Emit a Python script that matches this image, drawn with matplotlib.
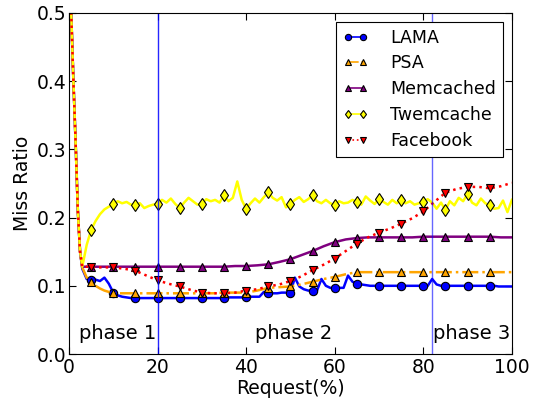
import numpy as np
import matplotlib
matplotlib.use("Agg")
import matplotlib.pyplot as plt

# request position (%), dense part at start where every curve falls fast
x_fine = [0, 0.5, 1, 1.5, 2, 2.5] + list(range(3, 101))
x_smooth = [0, 0.5, 1, 1.5, 2, 2.5, 3, 4, 5, 6, 7, 8, 9, 10] + list(np.arange(12.5, 100.1, 2.5))

start = [0.62, 0.50, 0.40, 0.31, 0.21, 0.15]

lama = start + [
    0.125, 0.110, 0.108, 0.109, 0.107, 0.112, 0.103, 0.090, 0.086, 0.084,   # 3-12
    0.083, 0.082, 0.082, 0.082, 0.082, 0.082, 0.082, 0.082, 0.082, 0.082,   # 13-22
    0.082, 0.082, 0.082, 0.082, 0.082, 0.082, 0.082, 0.082, 0.082, 0.082,   # 23-32
    0.082, 0.082, 0.082, 0.083, 0.083, 0.083, 0.083, 0.083, 0.084, 0.084,   # 33-42
    0.084, 0.091, 0.089, 0.089, 0.089, 0.090, 0.090, 0.090, 0.112, 0.099,   # 43-52
    0.095, 0.093, 0.093, 0.093, 0.110, 0.100, 0.097, 0.097, 0.097, 0.097,   # 53-62
    0.115, 0.106, 0.103, 0.102, 0.101, 0.100, 0.100, 0.100, 0.100, 0.100,   # 63-72
    0.100, 0.100, 0.100, 0.100, 0.100, 0.100, 0.100, 0.100, 0.100, 0.110,   # 73-82
    0.102, 0.100, 0.100, 0.100, 0.100, 0.100, 0.100, 0.100, 0.100, 0.100,   # 83-92
    0.100, 0.100, 0.100, 0.100, 0.099, 0.099, 0.099, 0.099,                 # 93-100
]

twemcache = start + [
    0.128, 0.160, 0.182, 0.195, 0.205, 0.212, 0.216, 0.220, 0.224, 0.221,   # 3-12
    0.223, 0.219, 0.219, 0.221, 0.214, 0.217, 0.219, 0.220, 0.226, 0.222,   # 13-22
    0.228, 0.220, 0.214, 0.222, 0.229, 0.224, 0.219, 0.220, 0.227, 0.224,   # 23-32
    0.226, 0.222, 0.233, 0.224, 0.229, 0.253, 0.226, 0.213, 0.221, 0.228,   # 33-42
    0.222, 0.230, 0.237, 0.229, 0.225, 0.230, 0.215, 0.220, 0.226, 0.230,   # 43-52
    0.223, 0.227, 0.233, 0.224, 0.221, 0.226, 0.221, 0.218, 0.224, 0.221,   # 53-62
    0.222, 0.226, 0.223, 0.219, 0.231, 0.225, 0.220, 0.227, 0.223, 0.219,   # 63-72
    0.226, 0.221, 0.226, 0.221, 0.224, 0.219, 0.221, 0.223, 0.227, 0.222,   # 73-82
    0.213, 0.222, 0.211, 0.224, 0.218, 0.229, 0.224, 0.235, 0.222, 0.218,   # 83-92
    0.228, 0.221, 0.218, 0.213, 0.214, 0.225, 0.208, 0.226,                 # 93-100
]

psa = start + [
    0.127, 0.112, 0.105, 0.100, 0.096, 0.093, 0.091, 0.089,                 # 3-10
    0.089, 0.089, 0.089, 0.089, 0.089, 0.089, 0.089, 0.089, 0.089, 0.090,   # 12.5-35
    0.090, 0.090, 0.093, 0.097, 0.098, 0.099, 0.102, 0.106, 0.110, 0.113,   # 37.5-60
    0.117, 0.120, 0.120, 0.120, 0.120, 0.120, 0.120, 0.120, 0.120, 0.120,   # 62.5-85
    0.120, 0.120, 0.120, 0.120, 0.120, 0.120,                               # 87.5-100
]

memcached = start + [
    0.128, 0.128, 0.128, 0.128, 0.128, 0.128, 0.128, 0.128,                 # 3-10
    0.128, 0.128, 0.128, 0.128, 0.128, 0.128, 0.128, 0.128, 0.128, 0.128,   # 12.5-35
    0.129, 0.129, 0.130, 0.1315, 0.135, 0.139, 0.145, 0.151, 0.158, 0.164,  # 37.5-60
    0.168, 0.170, 0.171, 0.171, 0.171, 0.171, 0.171, 0.172, 0.172, 0.172,   # 62.5-85
    0.172, 0.172, 0.172, 0.172, 0.171, 0.171,                               # 87.5-100
]

facebook = start + [
    0.128, 0.128, 0.128, 0.127, 0.127, 0.127, 0.127, 0.127,                 # 3-10
    0.125, 0.122, 0.115, 0.108, 0.103, 0.099, 0.094, 0.090, 0.089, 0.089,   # 12.5-35
    0.090, 0.093, 0.095, 0.099, 0.102, 0.107, 0.114, 0.123, 0.131, 0.140,   # 37.5-60
    0.151, 0.162, 0.171, 0.178, 0.184, 0.191, 0.199, 0.209, 0.223, 0.2365, # 62.5-85
    0.242, 0.245, 0.245, 0.243, 0.246, 0.251,                               # 87.5-100
]

phase_lines = [20, 82]
phase_labels = ["phase 1", "phase 2", "phase 3"]
phase_text_x = [2.3, 42, 82.3]


def marks(xs):
    # a marker every 5% of requests, skipping 0 and 100
    return [i for i, v in enumerate(xs) if v % 5 == 0 and 0 < v < 100]


plt.rcParams['font.family'] = ['DejaVu Sans']
plt.rcParams['font.size'] = 13.5

fig = plt.figure(figsize=(5.36, 4.0), dpi=100)
ax = fig.add_axes([0.1287, 0.115, 0.8263, 0.8525])

ax.plot(x_fine, lama, color='blue', ls='-', lw=1.8, marker='o', ms=6,
        mec='black', mew=0.8, markevery=marks(x_fine), label='LAMA')
ax.plot(x_smooth, psa, color='orange', ls='-.', lw=1.8, marker='^', ms=6,
        mec='black', mew=0.8, markevery=marks(x_smooth), label='PSA')
ax.plot(x_smooth, memcached, color='purple', ls='-', lw=1.8, marker='^', ms=6,
        mec='black', mew=0.8, markevery=marks(x_smooth), label='Memcached')
ax.plot(x_fine, twemcache, color='yellow', ls='-', lw=1.8, marker='d', ms=6,
        mec='black', mew=0.8, markevery=marks(x_fine), label='Twemcache')
ax.plot(x_smooth, facebook, color='red', ls=':', lw=1.8, marker='v', ms=6,
        mec='black', mew=0.8, markevery=marks(x_smooth), label='Facebook')

ax.axvline(phase_lines[0], color='blue', lw=1, alpha=0.85)
ax.axvline(phase_lines[1], color='blue', lw=1, alpha=0.6)

for tx, lab in zip(phase_text_x, phase_labels):
    ax.text(tx, 0.03, lab, fontsize=14, va='center', ha='left')

ax.set_xlim(0, 100)
ax.set_ylim(0, 0.5)
ax.set_xticks([0, 20, 40, 60, 80, 100])
ax.set_yticks([0.0, 0.1, 0.2, 0.3, 0.4, 0.5])
ax.set_yticklabels(['0.0', '0.1', '0.2', '0.3', '0.4', '0.5'])
ax.tick_params(direction='in', top=True, right=True, length=5)
ax.tick_params(axis='y', pad=2)
ax.tick_params(axis='x', pad=3)
ax.set_xlabel('Request(%)', labelpad=1)
ax.set_ylabel('Miss Ratio', labelpad=3)

leg = ax.legend(loc='upper right', numpoints=2, handlelength=1.45, fontsize=12.5,
                fancybox=False, framealpha=1, edgecolor='black', markerscale=0.75,
                borderaxespad=0.5, labelspacing=0.45, handletextpad=1.3)
leg.get_frame().set_linewidth(0.8)
for h in leg.get_lines():
    h.set_linewidth(1.2)

fig.savefig('out.png', dpi=100, facecolor='white')
